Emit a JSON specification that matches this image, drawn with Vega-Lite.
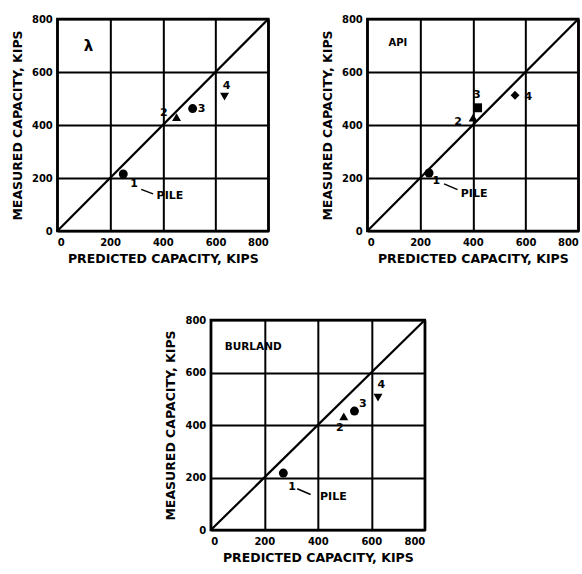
{
  "$schema": "https://vega.github.io/schema/vega-lite/v6.json",
  "background": "white",
  "padding": {"left": 10, "top": 12, "right": 1, "bottom": 1},
  "config": {
    "view": {"stroke": "black", "strokeWidth": 2.5},
    "font": "DejaVu Sans",
    "axis": {
      "grid": true, "gridColor": "black", "gridWidth": 2, "gridOpacity": 1,
      "domain": false, "ticks": false,
      "labelFont": "DejaVu Sans", "labelFontWeight": "bold", "labelFontSize": 10, "labelColor": "black",
      "titleFont": "DejaVu Sans", "titleFontWeight": "bold", "titleFontSize": 12.5, "titleColor": "black"
    },
    "axisX": {"labelPadding": 6, "titlePadding": 5},
    "axisY": {"labelPadding": 5, "titlePadding": 7}
  },
  "datasets": {
    "diag": [{"x": 0, "y": 0, "x2": 800, "y2": 800}],
    "points": [
      {"method": "lambda", "pile": "1", "pred": 250, "meas": 215},
      {"method": "lambda", "pile": "2", "pred": 452, "meas": 430},
      {"method": "lambda", "pile": "3", "pred": 513, "meas": 462},
      {"method": "lambda", "pile": "4", "pred": 634, "meas": 507},
      {"method": "API", "pile": "1", "pred": 234, "meas": 219},
      {"method": "API", "pile": "2", "pred": 401, "meas": 428},
      {"method": "API", "pile": "3", "pred": 418, "meas": 465},
      {"method": "API", "pile": "4", "pred": 560, "meas": 512},
      {"method": "BURLAND", "pile": "1", "pred": 271, "meas": 217},
      {"method": "BURLAND", "pile": "2", "pred": 497, "meas": 433},
      {"method": "BURLAND", "pile": "3", "pred": 537, "meas": 453},
      {"method": "BURLAND", "pile": "4", "pred": 625, "meas": 504}
    ],
    "labels": [
      {"method": "lambda", "text": "1", "x": 291, "y": 178},
      {"method": "lambda", "text": "2", "x": 404, "y": 446},
      {"method": "lambda", "text": "3", "x": 547, "y": 459},
      {"method": "lambda", "text": "4", "x": 642, "y": 548},
      {"method": "lambda", "text": "PILE", "x": 427, "y": 131},
      {"method": "API", "text": "1", "x": 262, "y": 188},
      {"method": "API", "text": "2", "x": 344, "y": 412},
      {"method": "API", "text": "3", "x": 415, "y": 515},
      {"method": "API", "text": "4", "x": 610, "y": 506},
      {"method": "API", "text": "PILE", "x": 405, "y": 140},
      {"method": "BURLAND", "text": "1", "x": 304, "y": 163},
      {"method": "BURLAND", "text": "2", "x": 482, "y": 390},
      {"method": "BURLAND", "text": "3", "x": 568, "y": 479},
      {"method": "BURLAND", "text": "4", "x": 637, "y": 552},
      {"method": "BURLAND", "text": "PILE", "x": 458, "y": 127}
    ],
    "leaders": [
      {"method": "lambda", "x": 318, "y": 157, "x2": 363, "y2": 140},
      {"method": "API", "x": 291, "y": 178, "x2": 342, "y2": 156},
      {"method": "BURLAND", "x": 323, "y": 157, "x2": 373, "y2": 135}
    ],
    "names": [
      {"method": "lambda", "text": "λ", "x": 100, "y": 698},
      {"method": "API", "text": "API", "x": 80, "y": 710},
      {"method": "BURLAND", "text": "BURLAND", "x": 52, "y": 698}
    ]
  },
  "spacing": 47,
  "center": true,
  "resolve": {"scale": {"shape": "independent"}},
  "vconcat": [
    {
      "spacing": 48,
      "resolve": {"scale": {"shape": "independent"}},
      "hconcat": [
        {
          "width": 211, "height": 212,
          "layer": [
            {"data": {"name": "diag"}, "mark": {"type": "rule", "color": "black", "strokeWidth": 2.2},
             "encoding": {
               "x": {"field": "x", "type": "quantitative", "scale": {"domain": [0, 800], "nice": false}, "axis": {"values": [0, 200, 400, 600, 800]}, "title": "PREDICTED CAPACITY, KIPS"},
               "y": {"field": "y", "type": "quantitative", "scale": {"domain": [0, 800], "nice": false}, "axis": {"values": [0, 200, 400, 600, 800]}, "title": "MEASURED CAPACITY, KIPS"},
               "x2": {"field": "x2"}, "y2": {"field": "y2"}}},
            {"data": {"name": "leaders"}, "transform": [{"filter": "datum.method == 'lambda'"}],
             "mark": {"type": "rule", "color": "black", "strokeWidth": 1.5},
             "encoding": {"x": {"field": "x", "type": "quantitative"}, "y": {"field": "y", "type": "quantitative"}, "x2": {"field": "x2"}, "y2": {"field": "y2"}}},
            {"data": {"name": "points"}, "transform": [{"filter": "datum.method == 'lambda'"}],
             "mark": {"type": "point", "filled": true, "color": "black", "size": 80, "opacity": 1},
             "encoding": {"x": {"field": "pred", "type": "quantitative"}, "y": {"field": "meas", "type": "quantitative"},
               "shape": {"field": "pile", "type": "nominal", "legend": null, "scale": {"domain": ["1", "2", "3", "4"], "range": ["circle", "triangle-up", "circle", "triangle-down"]}}}},
            {"data": {"name": "labels"}, "transform": [{"filter": "datum.method == 'lambda'"}],
             "mark": {"type": "text", "font": "DejaVu Sans", "fontWeight": "bold", "fontSize": 11, "color": "black"},
             "encoding": {"x": {"field": "x", "type": "quantitative"}, "y": {"field": "y", "type": "quantitative"}, "text": {"field": "text"}}},
            {"data": {"name": "names"}, "transform": [{"filter": "datum.method == 'lambda'"}],
             "mark": {"type": "text", "font": "DejaVu Sans", "fontWeight": "bold", "fontSize": 15, "color": "black", "align": "left"},
             "encoding": {"x": {"field": "x", "type": "quantitative"}, "y": {"field": "y", "type": "quantitative"}, "text": {"field": "text"}}}
          ]
        },
        {
          "width": 211, "height": 212,
          "layer": [
            {"data": {"name": "diag"}, "mark": {"type": "rule", "color": "black", "strokeWidth": 2.2},
             "encoding": {
               "x": {"field": "x", "type": "quantitative", "scale": {"domain": [0, 800], "nice": false}, "axis": {"values": [0, 200, 400, 600, 800]}, "title": "PREDICTED CAPACITY, KIPS"},
               "y": {"field": "y", "type": "quantitative", "scale": {"domain": [0, 800], "nice": false}, "axis": {"values": [0, 200, 400, 600, 800]}, "title": "MEASURED CAPACITY, KIPS"},
               "x2": {"field": "x2"}, "y2": {"field": "y2"}}},
            {"data": {"name": "leaders"}, "transform": [{"filter": "datum.method == 'API'"}],
             "mark": {"type": "rule", "color": "black", "strokeWidth": 1.5},
             "encoding": {"x": {"field": "x", "type": "quantitative"}, "y": {"field": "y", "type": "quantitative"}, "x2": {"field": "x2"}, "y2": {"field": "y2"}}},
            {"data": {"name": "points"}, "transform": [{"filter": "datum.method == 'API'"}],
             "mark": {"type": "point", "filled": true, "color": "black", "size": 80, "opacity": 1},
             "encoding": {"x": {"field": "pred", "type": "quantitative"}, "y": {"field": "meas", "type": "quantitative"},
               "shape": {"field": "pile", "type": "nominal", "legend": null, "scale": {"domain": ["1", "2", "3", "4"], "range": ["circle", "triangle-up", "square", "diamond"]}}}},
            {"data": {"name": "labels"}, "transform": [{"filter": "datum.method == 'API'"}],
             "mark": {"type": "text", "font": "DejaVu Sans", "fontWeight": "bold", "fontSize": 11, "color": "black"},
             "encoding": {"x": {"field": "x", "type": "quantitative"}, "y": {"field": "y", "type": "quantitative"}, "text": {"field": "text"}}},
            {"data": {"name": "names"}, "transform": [{"filter": "datum.method == 'API'"}],
             "mark": {"type": "text", "font": "DejaVu Sans", "fontWeight": "bold", "fontSize": 10, "color": "black", "align": "left"},
             "encoding": {"x": {"field": "x", "type": "quantitative"}, "y": {"field": "y", "type": "quantitative"}, "text": {"field": "text"}}}
          ]
        }
      ]
    },
    {
      "width": 214, "height": 210,
      "layer": [
        {"data": {"name": "diag"}, "mark": {"type": "rule", "color": "black", "strokeWidth": 2.2},
         "encoding": {
           "x": {"field": "x", "type": "quantitative", "scale": {"domain": [0, 800], "nice": false}, "axis": {"values": [0, 200, 400, 600, 800]}, "title": "PREDICTED CAPACITY, KIPS"},
           "y": {"field": "y", "type": "quantitative", "scale": {"domain": [0, 800], "nice": false}, "axis": {"values": [0, 200, 400, 600, 800]}, "title": "MEASURED CAPACITY, KIPS"},
           "x2": {"field": "x2"}, "y2": {"field": "y2"}}},
        {"data": {"name": "leaders"}, "transform": [{"filter": "datum.method == 'BURLAND'"}],
         "mark": {"type": "rule", "color": "black", "strokeWidth": 1.5},
         "encoding": {"x": {"field": "x", "type": "quantitative"}, "y": {"field": "y", "type": "quantitative"}, "x2": {"field": "x2"}, "y2": {"field": "y2"}}},
        {"data": {"name": "points"}, "transform": [{"filter": "datum.method == 'BURLAND'"}],
         "mark": {"type": "point", "filled": true, "color": "black", "size": 80, "opacity": 1},
         "encoding": {"x": {"field": "pred", "type": "quantitative"}, "y": {"field": "meas", "type": "quantitative"},
           "shape": {"field": "pile", "type": "nominal", "legend": null, "scale": {"domain": ["1", "2", "3", "4"], "range": ["circle", "triangle-up", "circle", "triangle-down"]}}}},
        {"data": {"name": "labels"}, "transform": [{"filter": "datum.method == 'BURLAND'"}],
         "mark": {"type": "text", "font": "DejaVu Sans", "fontWeight": "bold", "fontSize": 11, "color": "black"},
         "encoding": {"x": {"field": "x", "type": "quantitative"}, "y": {"field": "y", "type": "quantitative"}, "text": {"field": "text"}}},
        {"data": {"name": "names"}, "transform": [{"filter": "datum.method == 'BURLAND'"}],
         "mark": {"type": "text", "font": "DejaVu Sans", "fontWeight": "bold", "fontSize": 10.5, "color": "black", "align": "left"},
         "encoding": {"x": {"field": "x", "type": "quantitative"}, "y": {"field": "y", "type": "quantitative"}, "text": {"field": "text"}}}
      ]
    }
  ]
}
